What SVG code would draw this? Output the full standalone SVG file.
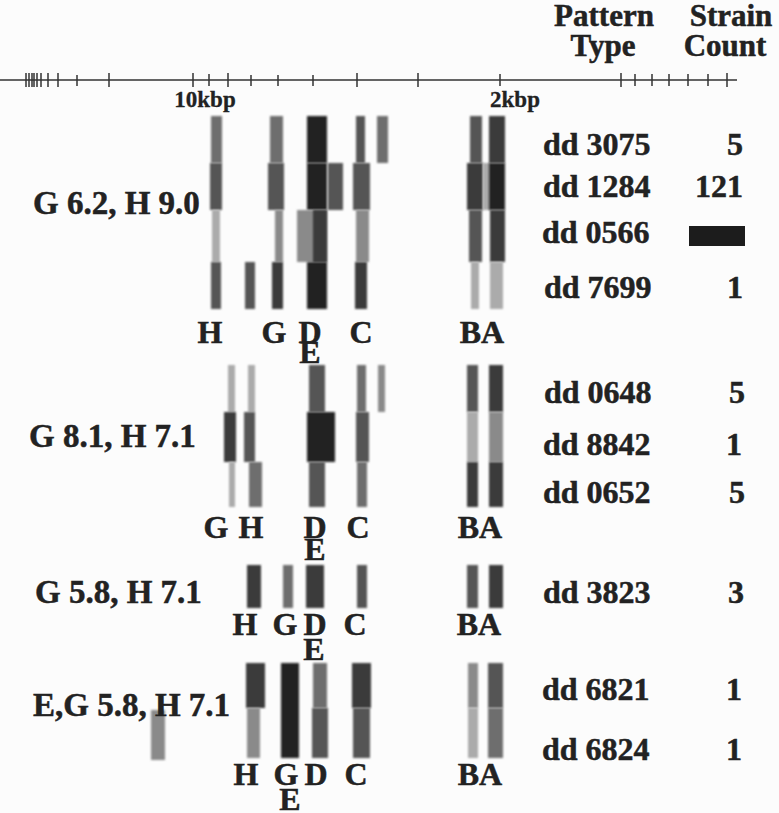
<svg xmlns="http://www.w3.org/2000/svg" width="779" height="813" viewBox="0 0 779 813">
<style>
text{font-family:"Liberation Serif","Times New Roman",serif;font-weight:bold;fill:#222;stroke:#222;stroke-width:0.5}
.hd{font-size:31px;text-anchor:middle}
.ax{font-size:23px;text-anchor:middle;stroke-width:0.3}
.gl{font-size:33px}
.pt{font-size:32px}
.ct{font-size:32px;text-anchor:end}
.lb{font-size:32px;text-anchor:middle}
.bands rect{filter:url(#soft)}
.v1{fill:#222}.v2{fill:#3a3a3a}.v3{fill:#555}.v4{fill:#6e6e6e}.v5{fill:#8a8a8a}.v6{fill:#ababab}
.tick{stroke:#333;stroke-width:1.5}
</style>
<defs>
<filter id="soft" x="-30%" y="-5%" width="160%" height="110%"><feGaussianBlur stdDeviation="0.9"/></filter>
</defs>
<rect width="779" height="813" fill="#fcfcfc"/>

<g id="header">
<text class="hd" x="604" y="26">Pattern</text>
<text class="hd" x="603" y="56">Type</text>
<text class="hd" x="731" y="26">Strain</text>
<text class="hd" x="725" y="56">Count</text>
</g>

<g id="axis">
<line class="tick" x1="0" y1="80" x2="737" y2="80"/>
<path class="tick" d="M26 73V87M29 73V87M32 73V87M34 73V87M37 73V87M41 73V87M48 73V87M58 73V87M77 75V86M109 73V87M193 73V87M209 74V86M228 73V87M251 75V86M278 75V86M313 75V86M357 73V87M418 73V87M500 74V86M621 73V87M635 74V86M652 74V86M669 74V86M688 74V86M708 74V86M727 73V87"/>
<text class="ax" x="205" y="107">10kbp</text>
<text class="ax" x="515" y="107">2kbp</text>
</g>

<g id="group1">
<text class="gl" x="33" y="214">G 6.2, H 9.0</text>
<g class="bands">
<rect class="v4" x="211" y="116" width="11" height="47"/>
<rect class="v3" x="210" y="163" width="12" height="47"/>
<rect class="v6" x="212" y="210" width="8" height="52"/>
<rect class="v3" x="211" y="262" width="10" height="47"/>
<rect class="v3" x="245" y="262" width="10" height="47"/>
<rect class="v4" x="270" y="116" width="13" height="47"/>
<rect class="v3" x="268" y="163" width="16" height="47"/>
<rect class="v5" x="275" y="210" width="8" height="52"/>
<rect class="v2" x="272" y="262" width="11" height="47"/>
<rect class="v1" x="307" y="116" width="20" height="47"/>
<rect class="v1" x="307" y="163" width="20" height="47"/>
<rect class="v5" x="297" y="210" width="30" height="52"/>
<rect class="v2" x="313" y="210" width="14" height="52"/>
<rect class="v1" x="307" y="262" width="20" height="47"/>
<rect class="v3" x="328" y="163" width="15" height="47"/>
<rect class="v3" x="356" y="116" width="9" height="47"/>
<rect class="v3" x="353" y="163" width="17" height="47"/>
<rect class="v5" x="356" y="210" width="13" height="52"/>
<rect class="v2" x="355" y="262" width="12" height="47"/>
<rect class="v4" x="377" y="116" width="11" height="47"/>
<rect class="v3" x="470" y="116" width="12" height="47"/>
<rect class="v2" x="467" y="163" width="16" height="47"/>
<rect class="v3" x="469" y="210" width="13" height="52"/>
<rect class="v6" x="471" y="262" width="8" height="47"/>
<rect class="v6" x="483" y="163" width="7" height="47"/>
<rect class="v2" x="489" y="116" width="16" height="47"/>
<rect class="v1" x="489" y="163" width="16" height="47"/>
<rect class="v2" x="490" y="210" width="15" height="52"/>
<rect class="v6" x="490" y="262" width="13" height="47"/>
</g>
<text class="lb" x="210" y="343">H</text>
<text class="lb" x="274" y="343">G</text>
<text class="lb" x="310" y="343">D</text>
<text class="lb" x="310" y="363">E</text>
<text class="lb" x="361" y="343">C</text>
<text class="lb" x="482" y="343">BA</text>
<text class="pt" x="543" y="155">dd 3075</text>
<text class="pt" x="543" y="197">dd 1284</text>
<text class="pt" x="542" y="243">dd 0566</text>
<text class="pt" x="544" y="298">dd 7699</text>
<text class="ct" x="743" y="155">5</text>
<text class="ct" x="743" y="197">121</text>
<rect x="689" y="226" width="56" height="20" fill="#1c1c1c"/>
<text class="ct" x="743" y="298">1</text>
</g>

<g id="group2">
<text class="gl" x="29" y="447">G 8.1, H 7.1</text>
<g class="bands">
<rect class="v6" x="228" y="365" width="7" height="47"/>
<rect class="v2" x="224" y="412" width="12" height="50"/>
<rect class="v6" x="229" y="462" width="6" height="45"/>
<rect class="v6" x="248" y="365" width="7" height="47"/>
<rect class="v3" x="244" y="412" width="11" height="50"/>
<rect class="v4" x="249" y="462" width="13" height="45"/>
<rect class="v3" x="309" y="365" width="16" height="47"/>
<rect class="v1" x="307" y="412" width="28" height="50"/>
<rect class="v3" x="309" y="462" width="16" height="45"/>
<rect class="v4" x="357" y="365" width="9" height="47"/>
<rect class="v3" x="356" y="412" width="13" height="50"/>
<rect class="v4" x="357" y="462" width="10" height="45"/>
<rect class="v5" x="378" y="365" width="7" height="47"/>
<rect class="v3" x="467" y="365" width="11" height="47"/>
<rect class="v6" x="467" y="412" width="11" height="50"/>
<rect class="v2" x="467" y="462" width="11" height="45"/>
<rect class="v2" x="489" y="365" width="14" height="47"/>
<rect class="v5" x="489" y="412" width="14" height="50"/>
<rect class="v2" x="489" y="462" width="14" height="45"/>
</g>
<text class="lb" x="216" y="538">G</text>
<text class="lb" x="251" y="538">H</text>
<text class="lb" x="315" y="538">D</text>
<text class="lb" x="315" y="560">E</text>
<text class="lb" x="358" y="538">C</text>
<text class="lb" x="480" y="538">BA</text>
<text class="pt" x="544" y="403">dd 0648</text>
<text class="pt" x="543" y="455">dd 8842</text>
<text class="pt" x="543" y="503">dd 0652</text>
<text class="ct" x="745" y="403">5</text>
<text class="ct" x="742" y="455">1</text>
<text class="ct" x="745" y="503">5</text>
</g>

<g id="group3">
<text class="gl" x="35" y="603">G 5.8, H 7.1</text>
<g class="bands">
<rect class="v2" x="247" y="565" width="14" height="43"/>
<rect class="v4" x="283" y="565" width="10" height="43"/>
<rect class="v2" x="306" y="565" width="18" height="43"/>
<rect class="v3" x="357" y="565" width="10" height="43"/>
<rect class="v3" x="467" y="565" width="11" height="43"/>
<rect class="v2" x="489" y="565" width="14" height="43"/>
</g>
<text class="lb" x="245" y="635">H</text>
<text class="lb" x="285" y="635">G</text>
<text class="lb" x="315" y="635">D</text>
<text class="lb" x="314" y="660">E</text>
<text class="lb" x="355" y="635">C</text>
<text class="lb" x="479" y="635">BA</text>
<text class="pt" x="543" y="603">dd 3823</text>
<text class="ct" x="744" y="603">3</text>
</g>

<g id="group4">
<g class="bands">
<rect class="v5" x="151" y="710" width="14" height="50"/>
</g>
<text class="gl" x="33" y="716">E,G 5.8, H 7.1</text>
<g class="bands">
<rect class="v2" x="246" y="663" width="19" height="45"/>
<rect class="v5" x="247" y="708" width="13" height="50"/>
<rect class="v1" x="281" y="663" width="18" height="95"/>
<rect class="v4" x="313" y="663" width="14" height="45"/>
<rect class="v3" x="312" y="708" width="16" height="50"/>
<rect class="v2" x="352" y="663" width="19" height="45"/>
<rect class="v3" x="353" y="708" width="17" height="50"/>
<rect class="v5" x="468" y="663" width="10" height="45"/>
<rect class="v6" x="468" y="708" width="10" height="50"/>
<rect class="v3" x="488" y="663" width="15" height="45"/>
<rect class="v4" x="488" y="708" width="15" height="50"/>
</g>
<text class="lb" x="246" y="785">H</text>
<text class="lb" x="286" y="785">G</text>
<text class="lb" x="316" y="785">D</text>
<text class="lb" x="290" y="810">E</text>
<text class="lb" x="356" y="785">C</text>
<text class="lb" x="480" y="785">BA</text>
<text class="pt" x="542" y="700">dd 6821</text>
<text class="pt" x="542" y="760">dd 6824</text>
<text class="ct" x="742" y="700">1</text>
<text class="ct" x="742" y="760">1</text>
</g>
</svg>
